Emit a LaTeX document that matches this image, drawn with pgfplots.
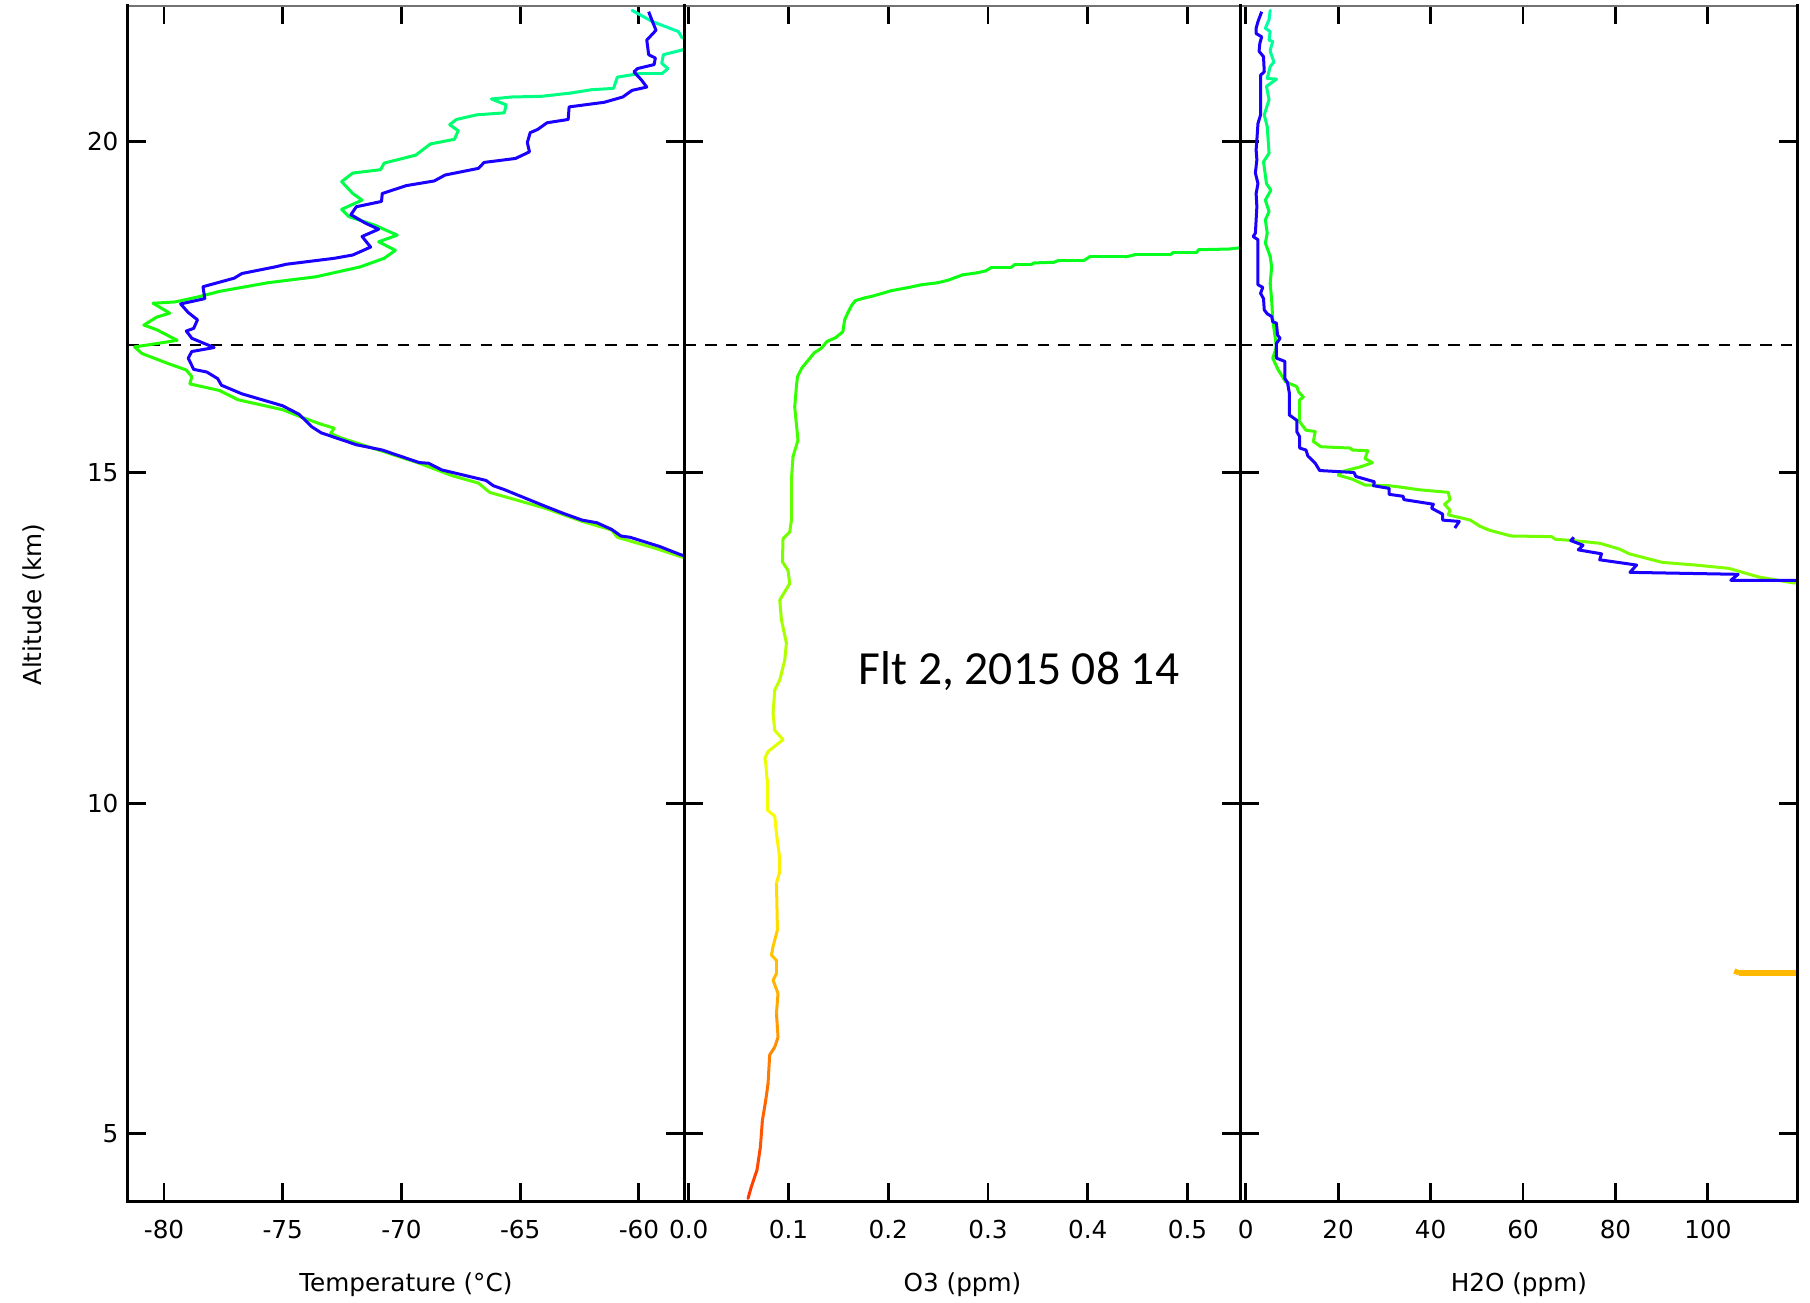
\documentclass[border=0pt]{standalone}
\usepackage{fontspec}
\setmainfont{DejaVu Sans}
\newfontfamily\calib{Carlito}
\usepackage{pgfplots}
\pgfplotsset{compat=1.18}
\definecolor{bl}{RGB}{25,0,255}
\pgfplotsset{
  colormap={alt}{rgb255(0cm)=(255,55,0); rgb255(1cm)=(255,85,0); rgb255(2cm)=(255,125,0);
    rgb255(3cm)=(255,170,0); rgb255(4cm)=(255,205,0); rgb255(5cm)=(255,238,0);
    rgb255(6cm)=(250,255,0); rgb255(7cm)=(220,255,0); rgb255(8cm)=(185,255,0);
    rgb255(9cm)=(150,255,0); rgb255(10cm)=(115,255,0); rgb255(11cm)=(85,255,0);
    rgb255(12cm)=(55,255,0); rgb255(13cm)=(30,255,0); rgb255(14cm)=(10,255,20);
    rgb255(15cm)=(0,255,60); rgb255(16cm)=(0,255,100); rgb255(17cm)=(0,255,140);
    rgb255(18cm)=(0,255,175)},
  prof/.style={
    scale only axis, height=517.75pt, ymin=3.98, ymax=22.06,
    ytick={5,10,15,20}, tick align=inside, major tick length=8pt,
    tick style={black, line width=1.25pt},
    axis line style={draw=none},
    clip mode=individual,
    colormap name=alt, point meta min=4, point meta max=22,
    tick label style={font=\fontsize{10.7}{12}\selectfont},
    xticklabel style={inner sep=0pt, anchor=north, yshift=-8.25pt},
    yticklabel style={inner sep=0pt, anchor=east, xshift=-3.7pt},
    xlabel style={at={(axis description cs:0.5,0)}, anchor=base, yshift=-39.25pt, inner sep=0pt, font=\fontsize{10.7}{12}\selectfont},
    anchor=south west,
  },
  grad/.style={mesh, point meta=y, line width=1.3pt, line cap=round},
  blu/.style={bl, line width=1.3pt, line join=round},
  tp/.style={black, dash pattern=on 5pt off 4pt, line width=1.2pt},
}
\newcommand\frameit{%
  \draw[black!55, line width=0.8pt] (rel axis cs:0,1) -- (rel axis cs:1,1);
  \draw[black, line width=1.3pt, line cap=rect] (rel axis cs:0,1) -- (rel axis cs:0,0) -- (rel axis cs:1,0) -- (rel axis cs:1,1);
}
\begin{document}
\begin{tikzpicture}
\useasboundingbox (0,0) rectangle (784pt,564pt);
% ---------- Temperature ----------
\begin{axis}[prof, at={(55.2pt,43.75pt)}, width=241.2pt,
  xmin=-81.54, xmax=-58.09,
  xtick={-80,-75,-70,-65,-60}, xticklabels={-80,-75,-70,-65,-60},
  yticklabels={5,10,15,20},
  xlabel={Temperature (°C)}]
\addplot[tp] coordinates {(-81.54,16.93) (-58.09,16.93)};
\addplot[grad] coordinates {
(-57.9,13.69) (-58.27,13.73) (-59.28,13.85) (-60.91,14.02) (-61.15,14.13) (-62.39,14.26)
(-63.95,14.46) (-66.29,14.70) (-66.76,14.84) (-67.85,14.95) (-69.25,15.14) (-70.96,15.34)
(-72.52,15.52) (-72.99,15.59) (-72.83,15.67) (-73.38,15.73) (-74.23,15.84) (-75.01,15.95)
(-76.88,16.10) (-77.66,16.24) (-78.91,16.34) (-78.83,16.45) (-79.06,16.55) (-79.84,16.65)
(-80.93,16.80) (-81.24,16.90) (-80.31,16.95) (-79.45,17.00) (-80.31,17.16) (-80.85,17.23)
(-80.31,17.35) (-79.76,17.41) (-80.46,17.56) (-79.53,17.58) (-78.52,17.66) (-77.66,17.74)
(-75.63,17.87) (-73.61,17.96) (-71.74,18.11) (-70.73,18.24) (-70.26,18.36) (-70.96,18.49)
(-70.18,18.59) (-71.12,18.74) (-72.21,18.87) (-72.52,18.98) (-71.66,19.12) (-72.05,19.22)
(-72.52,19.40) (-72.05,19.53) (-70.88,19.58) (-70.73,19.68) (-69.40,19.80) (-68.78,19.97)
(-67.77,20.04) (-67.61,20.17) (-67.97,20.26) (-67.69,20.34) (-66.83,20.41) (-65.67,20.44)
(-65.59,20.56) (-66.21,20.65) (-65.35,20.68) (-64.11,20.69) (-62.87,20.74) (-62.00,20.79)
(-61.07,20.81) (-60.91,20.98) (-60.06,21.03) (-59.04,21.03) (-58.78,21.11) (-59.04,21.19)
(-58.97,21.32) (-58.19,21.39) (-57.60,21.48) (-58.19,21.58) (-58.34,21.67) (-59.43,21.82)
(-60.29,21.99)};
\addplot[blu] coordinates {
(-57.9,13.72) (-58.27,13.76) (-59.12,13.88) (-60.37,14.02) (-60.76,14.04) (-61.15,14.14)
(-61.77,14.24) (-62.39,14.28) (-63.17,14.38) (-63.95,14.49) (-65.66,14.74) (-66.13,14.80)
(-66.44,14.88) (-68.31,15.04) (-68.86,15.14) (-69.25,15.15) (-70.81,15.34) (-71.90,15.42)
(-73.38,15.60) (-73.77,15.69) (-74.31,15.88) (-75.01,16.01) (-76.72,16.19) (-77.58,16.32)
(-77.74,16.42) (-78.20,16.52) (-78.75,16.56) (-78.98,16.73) (-78.83,16.83) (-77.89,16.89)
(-78.83,17.03) (-79.06,17.14) (-78.75,17.18) (-78.59,17.31) (-78.98,17.42) (-79.30,17.55)
(-78.28,17.63) (-78.36,17.81) (-77.04,17.94) (-76.72,18.01) (-75.32,18.11) (-74.85,18.15)
(-72.83,18.24) (-72.05,18.29) (-71.30,18.41) (-71.66,18.57) (-70.96,18.68) (-71.51,18.77)
(-72.13,18.90) (-71.90,19.02) (-70.84,19.10) (-70.81,19.22) (-69.79,19.34) (-68.62,19.41)
(-68.16,19.50) (-66.76,19.60) (-66.52,19.69) (-65.20,19.75) (-64.61,19.85) (-64.70,19.99)
(-64.58,20.14) (-64.26,20.19) (-63.87,20.29) (-62.98,20.34) (-62.94,20.53) (-61.46,20.60)
(-60.68,20.68) (-60.29,20.78) (-59.67,20.83) (-59.90,20.94) (-60.21,21.06) (-60.06,21.11)
(-59.36,21.17) (-59.31,21.27) (-59.59,21.32) (-59.67,21.54) (-59.28,21.69) (-59.43,21.82)
(-59.59,21.97)};
\frameit
\end{axis}
% ---------- O3 ----------
\begin{axis}[prof, at={(296.4pt,43.75pt)}, width=241.0pt,
  xmin=-0.0045, xmax=0.5534,
  xtick={0,0.1,0.2,0.3,0.4,0.5}, xticklabels={0.0,0.1,0.2,0.3,0.4,0.5},
  yticklabels={},
  xlabel={O3 (ppm)}]
\addplot[tp] coordinates {(-0.0045,16.93) (0.5534,16.93)};
\addplot[grad] coordinates {
(0.0594,4.02) (0.0628,4.20) (0.0684,4.45) (0.0718,4.80) (0.0738,5.20) (0.0772,5.51)
(0.0795,5.76) (0.0811,6.19) (0.0862,6.31) (0.0895,6.46) (0.0879,6.82) (0.0895,7.12)
(0.0845,7.32) (0.0879,7.42) (0.0879,7.62) (0.0829,7.70) (0.0845,7.83) (0.0889,8.08)
(0.0879,8.79) (0.0912,8.96) (0.0912,9.16) (0.0879,9.54) (0.0862,9.80) (0.0785,9.90)
(0.0785,10.35) (0.0772,10.60) (0.0762,10.68) (0.0795,10.78) (0.0945,10.96) (0.0862,11.10)
(0.0845,11.36) (0.0862,11.71) (0.0912,11.86) (0.0962,12.16) (0.0979,12.42) (0.0929,12.77)
(0.0912,13.07) (0.1012,13.32) (0.0995,13.52) (0.0939,13.65) (0.0945,14.00) (0.1012,14.10)
(0.1029,14.28) (0.1029,14.89) (0.1045,15.24) (0.1095,15.49) (0.1062,15.99) (0.1079,16.30)
(0.1090,16.45) (0.1133,16.58) (0.1204,16.71) (0.1258,16.81) (0.1330,16.88) (0.1384,16.98)
(0.1473,17.04) (0.1545,17.13) (0.1563,17.31) (0.1599,17.43) (0.1634,17.53) (0.1670,17.60)
(0.1760,17.64) (0.1849,17.67) (0.1939,17.71) (0.2029,17.75) (0.2208,17.80) (0.2333,17.84)
(0.2495,17.87) (0.2602,17.91) (0.2674,17.95) (0.2746,17.99) (0.2889,18.02) (0.2978,18.05)
(0.3032,18.10) (0.3230,18.10) (0.3265,18.14) (0.3427,18.14) (0.3462,18.17) (0.3660,18.18)
(0.3713,18.21) (0.3964,18.21) (0.4018,18.26) (0.4376,18.26) (0.4466,18.29) (0.4824,18.29)
(0.4860,18.33) (0.5093,18.33) (0.5111,18.37) (0.5416,18.38) (0.5530,18.40) (0.5800,18.42)};
\node[anchor=base, inner sep=0pt, font=\calib\fontsize{20.6}{24}\selectfont] at (axis cs:0.331,11.79) {Flt 2, 2015 08 14};
\frameit
\end{axis}
% ---------- H2O ----------
\begin{axis}[prof, at={(537.4pt,43.75pt)}, width=241.0pt,
  xmin=-1.1, xmax=119.3,
  xtick={0,20,40,60,80,100}, xticklabels={0,20,40,60,80,100},
  yticklabels={},
  xlabel={H2O (ppm)}]
\addplot[tp] coordinates {(-1.1,16.93) (119.3,16.93)};
\addplot[grad, line width=2.3pt, line cap=butt] coordinates {(105.7,7.46) (106.8,7.43) (125,7.43)};
\addplot[grad] coordinates {
(125,13.31) (118.5,13.33) (110.95,13.42) (104.56,13.55) (97.36,13.60) (90.17,13.64)
(82.97,13.77) (80.97,13.84) (76.58,13.93) (70.98,13.97) (66.99,13.99) (66.19,14.03)
(57.39,14.04) (52.60,14.13) (50.60,14.19) (48.60,14.28) (43.81,14.36) (44.20,14.43)
(43.01,14.52) (44.20,14.59) (43.81,14.70) (37.41,14.74) (33.41,14.78) (31.02,14.80)
(25.82,14.81) (23.02,14.90) (20.00,14.96) (20.62,15.01) (25.02,15.09) (27.42,15.15)
(25.82,15.21) (26.38,15.33) (23.02,15.34) (22.62,15.37) (16.23,15.39) (14.63,15.47)
(15.03,15.62) (13.03,15.64) (11.43,15.79) (11.67,15.82) (11.67,16.10) (12.47,16.14)
(11.43,16.22) (11.03,16.30) (8.63,16.37) (7.03,16.55) (5.84,16.73) (6.63,16.90)
(6.24,17.10) (5.84,17.31) (5.60,17.61) (5.28,17.86) (5.60,18.11) (5.28,18.27)
(4.24,18.47) (4.64,18.62) (4.24,18.82) (5.04,18.95) (4.24,19.12) (5.44,19.27)
(4.48,19.37) (3.84,19.70) (5.04,19.83) (4.64,20.23) (4.00,20.41) (5.04,20.64)
(4.48,20.84) (6.63,20.95) (4.64,20.96) (5.28,21.14) (6.08,21.21) (5.44,21.34)
(5.28,21.39) (5.84,21.52) (5.04,21.54) (5.28,21.67) (4.24,21.72) (5.04,21.85)
(5.28,21.99)};
\addplot[blu] coordinates {
(125,13.37) (104.96,13.37) (106.55,13.46) (83.13,13.49) (84.57,13.60) (76.58,13.68)
(76.98,13.77) (71.94,13.83) (72.98,13.90) (70.34,13.97) (70.98,14.02)};
\addplot[blu] coordinates {
(45.24,14.16) (46.20,14.26) (42.61,14.28) (42.61,14.37) (40.21,14.46) (40.60,14.52)
(34.21,14.59) (34.05,14.64) (31.02,14.67) (31.02,14.76) (27.66,14.80) (27.82,14.86)
(23.82,14.94) (23.42,15.00) (15.99,15.03) (15.03,15.14) (13.43,15.25) (13.03,15.34)
(11.67,15.37) (11.67,15.54) (11.03,15.62) (11.03,15.79) (9.43,15.87) (9.43,16.20)
(9.03,16.36) (8.47,16.42) (8.47,16.68) (6.63,16.73) (6.63,16.95) (7.43,17.03)
(6.87,17.08) (6.63,17.26) (5.84,17.28) (5.60,17.36) (4.64,17.40) (4.00,17.46)
(3.84,17.63) (3.20,17.71) (3.68,17.80) (2.64,17.84) (2.64,18.52) (1.60,18.57)
(2.08,18.62) (2.40,19.02) (2.24,19.22) (2.64,19.37) (2.08,19.53) (2.40,19.73)
(2.24,19.88) (2.40,20.03) (2.64,20.28) (3.20,20.41) (3.20,21.01) (4.00,21.06)
(3.84,21.29) (2.88,21.37) (3.04,21.49) (3.44,21.59) (2.24,21.64) (2.24,21.72)
(2.64,21.82) (3.44,21.97)};
\frameit
\end{axis}
\node[rotate=90, anchor=base, inner sep=0pt, font=\fontsize{10.7}{12}\selectfont] at (18pt,302pt) {Altitude (km)};
\end{tikzpicture}
\end{document}
